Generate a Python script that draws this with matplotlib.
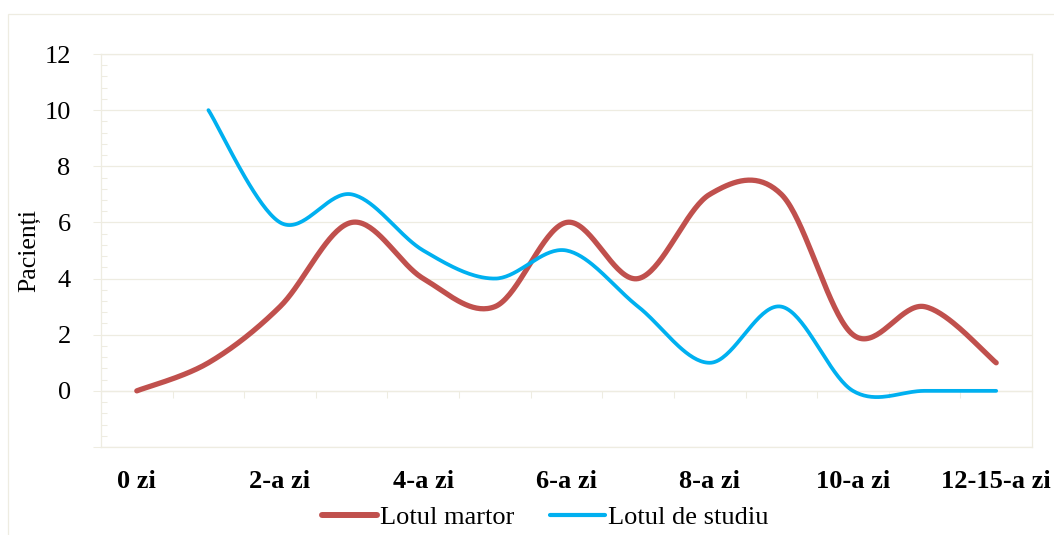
import numpy as np
import matplotlib
matplotlib.use('Agg')
import matplotlib.pyplot as plt
from matplotlib.patches import Rectangle
from matplotlib.lines import Line2D
from matplotlib.ticker import MultipleLocator, FixedLocator, FuncFormatter

# ---- data ----
tick_labels = ['0 zi', '', '2-a zi', '', '4-a zi', '', '6-a zi', '', '8-a zi', '',
               '10-a zi', '', '12-15-a zi']
martor = [0, 1, 3, 6, 4, 3, 6, 4, 7, 7, 2, 3, 1]
studiu = [None, 10, 6, 7, 5, 4, 5, 3, 1, 3, 0, 0, 0]
series_names = ['Lotul martor', 'Lotul de studiu']
y_label = 'Pacienți'

plt.rcParams['font.family'] = ['Liberation Serif', 'DejaVu Serif']

RED = '#C0504D'
BLUE = '#00B0F0'
GRID = '#EEECE1'
ymin, ymax = -2, 12

W, H = 1054, 535
fig = plt.figure(figsize=(W / 100, H / 100), dpi=100)
ax = fig.add_axes([101 / W, 1 - 447 / H, (1032 - 101) / W, (447 - 54) / H])


def smooth(xs, ys, n=40):
    """Catmull-Rom (Excel-like) smoothing rendered as cubic Bezier segments."""
    P = np.column_stack([xs, ys]).astype(float)
    out = [P[0]]
    t = np.linspace(0, 1, n)[1:, None]
    for i in range(len(P) - 1):
        p0 = P[i - 1] if i > 0 else P[i]
        p1, p2 = P[i], P[i + 1]
        p3 = P[i + 2] if i + 2 < len(P) else P[i + 1]
        c1 = p1 + (p2 - p0) / 6
        c2 = p2 - (p3 - p1) / 6
        seg = ((1 - t) ** 3) * p1 + 3 * ((1 - t) ** 2) * t * c1 + 3 * (1 - t) * t ** 2 * c2 + t ** 3 * p2
        out.extend(seg)
    out = np.array(out)
    return out[:, 0], out[:, 1]


x_all = np.arange(len(tick_labels))
xm, ym = smooth(x_all, martor)
ax.plot(xm, ym, color=RED, lw=3.8, solid_capstyle='round', zorder=4)
xs_idx = [i for i, v in enumerate(studiu) if v is not None]
xs_s, ys_s = smooth(xs_idx, [studiu[i] for i in xs_idx])
ax.plot(xs_s, ys_s, color=BLUE, lw=2.7, solid_capstyle='round', zorder=5)

ax.set_xlim(-0.5, len(tick_labels) - 0.5)
ax.set_ylim(ymin, ymax)

# y axis
ax.yaxis.set_major_locator(MultipleLocator(2))
ax.yaxis.set_minor_locator(MultipleLocator(0.4))
ax.yaxis.set_major_formatter(FuncFormatter(lambda v, p: '' if v < 0 else f'{v:g}'))
ax.tick_params(axis='y', which='major', direction='out', length=5.8, width=0.75,
               color=GRID, labelsize=19, pad=16)
ax.tick_params(axis='y', which='minor', direction='in', length=4.3, width=0.75, color=GRID)
ax.yaxis.grid(True, which='major', color=GRID, lw=0.9)
ax.set_axisbelow(True)

# x axis labels
ax.set_xticks(x_all)
ax.set_xticklabels(tick_labels, fontweight='bold', fontsize=19)
ax.tick_params(axis='x', length=0, pad=16.5)

for s in ax.spines.values():
    s.set_color(GRID)
    s.set_linewidth(0.9)

# category axis line at y=0 with boundary tick marks
sec = ax.secondary_xaxis((0 - ymin) / (ymax - ymin))
sec.set_xticks(np.arange(-0.5, len(tick_labels), 1.0))
sec.tick_params(axis='x', direction='out', length=5, width=0.75, color=GRID,
                labelbottom=False, labeltop=False)
for s in sec.spines.values():
    s.set_color(GRID)
    s.set_linewidth(0.9)

# y label
ax.set_ylabel(y_label, fontsize=18.5, va='center')
ax.yaxis.set_label_coords((29 - 101) / (1032 - 101), 0.5)

# legend
handles = [Line2D([], [], color=RED, lw=4.3, solid_capstyle='round'),
           Line2D([], [], color=BLUE, lw=3.0, solid_capstyle='round')]
fig.legend(handles, series_names, loc='center', bbox_to_anchor=(545 / W, 1 - 517 / H),
           ncol=2, frameon=False, fontsize=19, handlelength=2.1, handletextpad=0.1,
           columnspacing=1.35, borderpad=0, borderaxespad=0)

# outer chart frame
fig.add_artist(Rectangle((8 / W, -0.2), 1.2, 1.2 - 14 / H, transform=fig.transFigure,
                         fill=False, edgecolor=GRID, lw=0.9))

fig.savefig('out.png', dpi=100)
